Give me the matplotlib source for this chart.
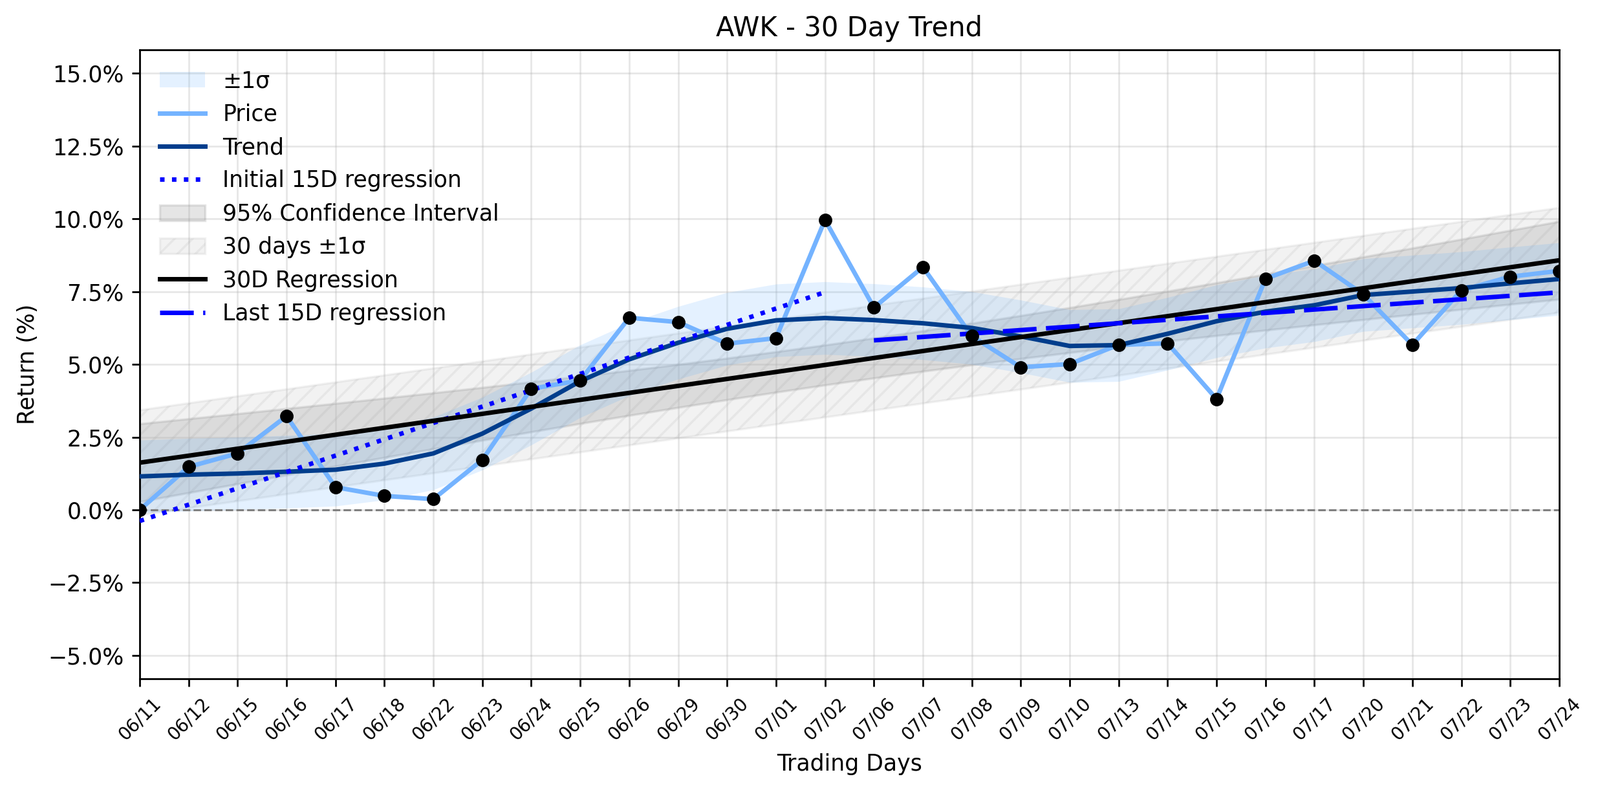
import numpy as np
import matplotlib
matplotlib.use("Agg")
import matplotlib.pyplot as plt
from matplotlib.ticker import FuncFormatter

# ---- data ----
dates = ["06/11", "06/12", "06/15", "06/16", "06/17", "06/18", "06/22", "06/23",
         "06/24", "06/25", "06/26", "06/29", "06/30", "07/01", "07/02", "07/06",
         "07/07", "07/08", "07/09", "07/10", "07/13", "07/14", "07/15", "07/16",
         "07/17", "07/20", "07/21", "07/22", "07/23", "07/24"]
price = [0.00, 1.48, 1.94, 3.22, 0.78, 0.48, 0.37, 1.72, 4.16, 4.45,
         6.60, 6.45, 5.71, 5.90, 9.96, 6.95, 8.34, 5.97, 4.90, 5.01,
         5.67, 5.72, 3.81, 7.94, 8.56, 7.40, 5.67, 7.54, 8.01, 8.21]
trend = [1.15, 1.21, 1.25, 1.31, 1.38, 1.59, 1.94, 2.62, 3.48, 4.42,
         5.17, 5.74, 6.22, 6.51, 6.59, 6.52, 6.41, 6.25, 5.96, 5.63,
         5.66, 6.05, 6.48, 6.81, 7.03, 7.38, 7.50, 7.62, 7.78, 7.93]
t_crit = 2.048          # t(0.975, 28)
yticks = [-5.0, -2.5, 0.0, 2.5, 5.0, 7.5, 10.0, 12.5, 15.0]

# ---- derived ----
x = np.arange(len(price))
p = np.array(price)
tr = np.array(trend)
n = len(p)

band_sigma = np.std(p - tr, ddof=1)

coef = np.polyfit(x, p, 1)
reg = np.polyval(coef, x)
resid = p - reg
s = np.sqrt(np.sum(resid ** 2) / (n - 2))
sxx = np.sum((x - x.mean()) ** 2)
ci = t_crit * s * np.sqrt(1.0 / n + (x - x.mean()) ** 2 / sxx)
sig30 = np.std(resid, ddof=1)

x1 = x[:15]
c1 = np.polyfit(x1, p[:15], 1)
x2 = x[15:]
c2 = np.polyfit(x2, p[15:], 1)

# ---- plot ----
DPI = 250
fig = plt.figure(figsize=(2474 / DPI, 1224 / DPI), dpi=DPI)
ax = fig.add_axes([0.0873, 0.143, 0.8872, 0.794])

h_sig = ax.fill_between(x, tr - band_sigma, tr + band_sigma, color="#4da6ff",
                        alpha=0.15, linewidth=0, label="±1σ", zorder=2)
h_hatch = ax.fill_between(x, reg - sig30, reg + sig30, facecolor="gray",
                          edgecolor="gray", alpha=0.1, hatch="///",
                          label="30 days ±1σ", zorder=1)
h_ci = ax.fill_between(x, reg - ci, reg + ci, color="gray", alpha=0.2,
                       label="95% Confidence Interval", zorder=1.5)

ax.axhline(0, color="gray", linestyle="--", linewidth=0.9, zorder=2)

h_price, = ax.plot(x, p, color="#74b3ff", linewidth=2, label="Price", zorder=4)
ax.plot(x, p, "o", color="black", markersize=5, zorder=6)
h_trend, = ax.plot(x, tr, color="#003d8c", linewidth=2, label="Trend", zorder=4)
h_init, = ax.plot(x1, np.polyval(c1, x1), color="blue", linestyle=":",
                  linewidth=2, label="Initial 15D regression", zorder=5)
h_reg, = ax.plot(x, reg, color="black", linewidth=2, label="30D Regression", zorder=5)
h_last, = ax.plot(x2, np.polyval(c2, x2), color="blue", linewidth=2,
                  dashes=(7.5, 2.1), label="Last 15D regression", zorder=5)

ax.set_xlim(0, n - 1)
ax.set_ylim(-5.8, 15.8)
ax.set_xticks(x)
ax.set_xticklabels(dates, rotation=45, fontsize=8)
ax.set_yticks(yticks)
ax.yaxis.set_major_formatter(
    FuncFormatter(lambda v, _: f"{v:.1f}%".replace("-", "\u2212")))
ax.tick_params(axis="y", labelsize=10)
ax.grid(True, alpha=0.3)

ax.set_title("AWK - 30 Day Trend", fontsize=12)
ax.set_xlabel("Trading Days", fontsize=10)
ax.set_ylabel("Return (%)", fontsize=10)

ax.legend(handles=[h_sig, h_price, h_trend, h_init, h_ci, h_hatch, h_reg, h_last],
          loc="upper left", frameon=False, fontsize=10)

fig.savefig("out.png", dpi=DPI)
